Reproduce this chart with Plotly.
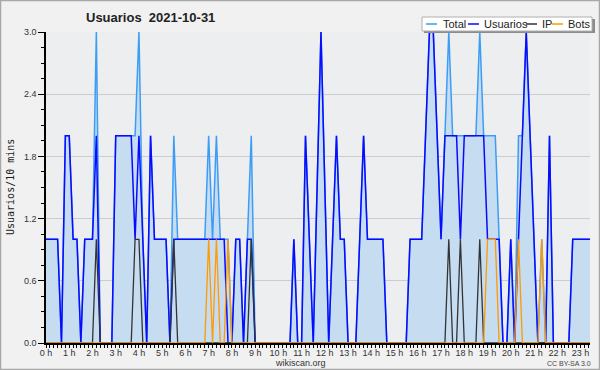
import plotly.graph_objects as go

# ---- data (10-minute slots, 6 per hour, 24 hours) ----
usuarios = [
    1, 1, 1, 1, 0, 2,   2, 1, 1, 0, 1, 1,
    1, 2, 0, 0, 0, 0,   2, 2, 2, 2, 2, 1,
    2, 1, 0, 2, 1, 1,   1, 1, 0, 1, 1, 1,
    1, 1, 1, 1, 1, 1,   1, 1, 1, 1, 1, 0,
    0, 1, 1, 0, 1, 1,   0, 0, 0, 0, 0, 0,
    0, 0, 0, 0, 1, 0,   0, 2, 1, 0, 1.5, 3,
    1.5, 0, 1, 2, 1, 1, 0, 0, 0, 1, 2, 1,
    1, 1, 1, 1, 0, 0,   0, 0, 0, 0, 1, 1,
    1, 1, 2, 3, 3, 2,   1, 2, 2, 2, 2, 1,
    2, 2, 2, 2, 2, 2,   1, 1, 1, 1, 0, 0,
    1, 0, 1, 2, 3, 2,   1, 0, 0, 0, 2, 0,
    0, 0, 0, 0, 1, 1,   1, 1, 1, 1, 1, 1,
]
ip = [
    0, 0, 0, 0, 0, 0,   0, 0, 0, 0, 0, 0,
    0, 1, 0, 0, 0, 0,   0, 0, 0, 0, 0, 1,
    1, 0, 0, 0, 0, 0,   0, 0, 0, 1, 0, 0,
    0, 0, 0, 0, 0, 0,   0, 0, 0, 0, 0, 0,
    0, 0, 0, 0, 0, 1,   0, 0, 0, 0, 0, 0,
    0, 0, 0, 0, 0, 0,   0, 0, 0, 0, 0, 0,
    0, 0, 0, 0, 0, 0,   0, 0, 0, 0, 0, 0,
    0, 0, 0, 0, 0, 0,   0, 0, 0, 0, 0, 0,
    0, 0, 0, 0, 0, 0,   0, 0, 1, 0, 0, 1,
    0, 0, 0, 0, 1, 0,   0, 0, 0, 0, 0, 0,
    0, 0, 0, 0, 0, 0,   0, 0, 0, 0, 0, 0,
    0, 0, 0, 0, 0, 0,   0, 0, 0, 0, 0, 0,
]
bots = [
    0, 0, 0, 0, 0, 0,   0, 0, 0, 0, 0, 0,
    0, 0, 0, 0, 0, 0,   0, 0, 0, 0, 0, 0,
    0, 0, 0, 0, 0, 0,   0, 0, 0, 0, 0, 0,
    0, 0, 0, 0, 0, 0,   1, 0, 1, 0, 0, 1,
    0, 0, 0, 0, 0, 0,   0, 0, 0, 0, 0, 0,
    0, 0, 0, 0, 0, 0,   0, 0, 0, 0, 0, 0,
    0, 0, 0, 0, 0, 0,   0, 0, 0, 0, 0, 0,
    0, 0, 0, 0, 0, 0,   0, 0, 0, 0, 0, 0,
    0, 0, 0, 0, 0, 0,   0, 0, 0, 0, 0, 0,
    0, 0, 0, 0, 0, 0,   1, 1, 1, 0, 0, 0,
    0, 0, 1, 0, 0, 0,   0, 0, 1, 0, 0, 0,
    0, 0, 0, 0, 0, 0,   0, 0, 0, 0, 0, 0,
]
total = [
    1, 1, 1, 1, 0, 2,   2, 1, 1, 0, 1, 1,
    1, 3, 0, 0, 0, 0,   2, 2, 2, 2, 2, 2,
    3, 1, 0, 2, 1, 1,   1, 1, 0, 2, 1, 1,
    1, 1, 1, 1, 1, 1,   2, 1, 2, 1, 1, 1,
    0, 1, 1, 0, 1, 2,   0, 0, 0, 0, 0, 0,
    0, 0, 0, 0, 1, 0,   0, 2, 1, 0, 1.5, 3,
    1.5, 0, 1, 2, 1, 1, 0, 0, 0, 1, 2, 1,
    1, 1, 1, 1, 0, 0,   0, 0, 0, 0, 1, 1,
    1, 1, 2, 3, 3, 2,   1, 2, 3, 2, 2, 2,
    2, 2, 2, 2, 3, 2,   2, 2, 2, 1, 0, 0,
    1, 0, 2, 2, 3, 2,   1, 0, 1, 0, 2, 0,
    0, 0, 0, 0, 1, 1,   1, 1, 1, 1, 1, 1,
]
hour_ticks = list(range(24))
hour_labels = [f"{h} h" for h in hour_ticks]
y_ticks = [0.0, 0.6, 1.2, 1.8, 2.4, 3.0]
series_names = ["Total", "Usuarios", "IP", "Bots"]
series_colors = ["#3d9df5", "#0a0aff", "#333333", "#ff9a00"]

slots = [i / 6 for i in range(len(usuarios))]

W, H = 600, 370
ML, MR, MT, MB = 46, 10, 32, 27
PW, PH = W - ML - MR, H - MT - MB


def px(x):
    return (x - ML) / PW


def py(y):
    return (H - MB - y) / PH


fig = go.Figure()
fig.add_trace(go.Scatter(x=slots, y=total, mode="lines", name="Total",
                         line=dict(color=series_colors[0], width=1.5),
                         fill="tozeroy", fillcolor="#c6ddf1"))
fig.add_trace(go.Scatter(x=slots, y=usuarios, mode="lines", name="Usuarios",
                         line=dict(color=series_colors[1], width=1.5)))
fig.add_trace(go.Scatter(x=slots, y=ip, mode="lines", name="IP",
                         line=dict(color=series_colors[2], width=1.3)))
fig.add_trace(go.Scatter(x=slots, y=bots, mode="lines", name="Bots",
                         line=dict(color=series_colors[3], width=1.3)))

tickfont = dict(family="Liberation Sans", size=9, color="#333333")

fig.update_layout(
    width=W, height=H,
    margin=dict(l=ML, r=MR, t=MT, b=MB, pad=0),
    paper_bgcolor="#f1f1f1",
    plot_bgcolor="#eceef0",
    showlegend=False,
    hovermode=False,
    xaxis=dict(
        range=[0, 23.41], tickmode="array", tickvals=hour_ticks, ticktext=hour_labels,
        ticks="outside", ticklen=3, tickcolor="black", tickwidth=1,
        ticklabelstandoff=-3,
        showline=True, linecolor="black", linewidth=1.5, showgrid=False, zeroline=False,
        tickfont=tickfont,
        minor=dict(tickmode="linear", tick0=0, dtick=1 / 6, ticks="outside",
                   ticklen=3, tickcolor="black", showgrid=False),
    ),
    yaxis=dict(
        range=[0, 3], tickmode="array", tickvals=y_ticks,
        ticktext=[f"{v:.1f}" for v in y_ticks],
        ticks="outside", ticklen=6, tickcolor="black",
        showline=True, linecolor="black", linewidth=1.5,
        showgrid=True, gridcolor="#cccccc", gridwidth=1, zeroline=False,
        tickfont=tickfont,
        minor=dict(tickmode="linear", tick0=0, dtick=0.15, ticks="outside",
                   ticklen=3, tickcolor="black", showgrid=False),
    ),
)

shapes = []
annotations = []

# outer frame
shapes.append(dict(type="rect", xref="paper", yref="paper",
                   x0=px(0.5), x1=px(599.5), y0=py(369.5), y1=py(0.5),
                   line=dict(color="#a8a8a8", width=1.5)))

# title
annotations.append(dict(text="<b>Usuarios  2021-10-31</b>", xref="paper", yref="paper",
                        x=px(150), y=py(17), xanchor="center", yanchor="middle",
                        showarrow=False,
                        font=dict(family="Liberation Sans", size=13, color="#222222")))

# y axis title
annotations.append(dict(text="Usuarios/10 mins", xref="paper", yref="paper",
                        x=px(10), y=py(187), xanchor="center", yanchor="middle",
                        textangle=-90, showarrow=False,
                        font=dict(family="DejaVu Sans Mono", size=10, color="#222222")))

# footer
annotations.append(dict(text="wikiscan.org", xref="paper", yref="paper",
                        x=px(300), y=py(362.5), xanchor="center", yanchor="middle",
                        showarrow=False,
                        font=dict(family="Liberation Sans", size=9, color="#333333")))
annotations.append(dict(text="CC BY-SA 3.0", xref="paper", yref="paper",
                        x=px(569), y=py(363), xanchor="center", yanchor="middle",
                        showarrow=False,
                        font=dict(family="Liberation Sans", size=7, color="#444444")))

# legend (drawn manually)
shapes.append(dict(type="rect", xref="paper", yref="paper",
                   x0=px(424), x1=px(595), y0=py(33), y1=py(19),
                   fillcolor="#8c8c8c", line=dict(width=0)))
shapes.append(dict(type="rect", xref="paper", yref="paper",
                   x0=px(422), x1=px(592), y0=py(31), y1=py(17),
                   fillcolor="#ffffff", line=dict(color="#b0b0b0", width=1)))
leg_line_x = [426, 468, 526, 552]
leg_text_x = [441, 482, 540, 566]
for name, color, lx, tx in zip(series_names, series_colors, leg_line_x, leg_text_x):
    shapes.append(dict(type="line", xref="paper", yref="paper",
                       x0=px(lx), x1=px(lx + 11), y0=py(24), y1=py(24),
                       line=dict(color=color, width=1.5)))
    annotations.append(dict(text=name, xref="paper", yref="paper",
                            x=px(tx), y=py(24.5), xanchor="left", yanchor="middle",
                            showarrow=False,
                            font=dict(family="Liberation Sans", size=11, color="#222222")))

fig.update_layout(shapes=shapes, annotations=annotations)

fig.write_html("out.html", config=dict(displayModeBar=False),
               post_script="document.body.style.margin='0';document.body.style.overflow='hidden';")
